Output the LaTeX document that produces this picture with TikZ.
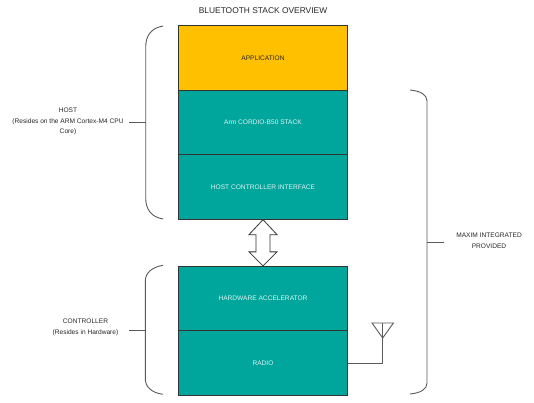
\documentclass[tikz,border=0pt]{standalone}
\usepackage{fontspec}
\setmainfont{Liberation Sans}
\usepackage{tikz}
\usetikzlibrary{positioning, calc}

\definecolor{appyellow}{HTML}{FFC000}
\definecolor{stackteal}{HTML}{00A59C}
\definecolor{bracegray}{HTML}{5A5A5A}

\begin{document}
\begin{tikzpicture}[x=1pt, y=-1pt, node distance=64.5pt, on grid]
        \tikzset{layer/.style={draw=black!80, line width=0.8pt, fill=stackteal, text=white!88!stackteal,
                minimum width=168.6pt, minimum height=64.5pt, font=\fontsize{6.6}{8}\selectfont}}
        \tikzstyle{brace}=[draw=bracegray, line width=0.9pt]
        \tikzstyle{side label}=[align=center, text=black!85, font=\fontsize{6.6}{10.6}\selectfont]

        \useasboundingbox (0,0) rectangle (534,403);

        \node[text=black!85, font=\fontsize{8.4}{10}\selectfont] (title) at (263,11) {BLUETOOTH STACK OVERVIEW};

        % the stack
        \node[layer, fill=appyellow, text=black!85] (app) at (263,58) {APPLICATION};
        \node[layer] (cordio) [below=of app] {Arm CORDIO-B50 STACK};
        \node[layer] (hci) [below=of cordio] {HOST CONTROLLER INTERFACE};
        \node[layer] (hw) [below=111.5pt of hci] {HARDWARE ACCELERATOR};
        \node[layer] (radio) [below=of hw] {RADIO};

        % host <-> controller
        \draw[draw=black!80, line width=0.8pt, fill=white]
        (hci.south) -- ++(14,15) -- ++(-7,0) -- ($(hw.north)+(7,-14)$) -- ++(7,0)
        -- (hw.north) -- ++(-14,-14) -- ++(7,0) -- ($(hci.south)+(-7,15)$) -- ++(-7,0) -- cycle;

        % antenna
        \coordinate (ant) at ($(radio.east)+(35,-40)$);
        \draw[brace] (radio.east) -| (ant);
        \draw[brace] ($(ant)+(-10.7,0)$) -- ($(ant)+(10.7,0)$) -- ($(ant)+(0,15)$) -- cycle;

        % braces
        \draw[brace] (163,26) .. controls (151,28) and (145.7,36) .. (145.7,47) -- (145.7,198)
        .. controls (145.7,209) and (151,217) .. (163,219);
        \coordinate (hosttick) at (129,122.7);
        \draw[brace] (145.7,122.7) -- (hosttick);

        \draw[brace] (163,265.3) .. controls (152,267) and (145.3,273) .. (145.3,281) -- (145.3,379)
        .. controls (145.3,387) and (152,393) .. (163,394.3);
        \coordinate (ctrltick) at (129.3,330.3);
        \draw[brace] (145.3,330.3) -- (ctrltick);

        \draw[brace] (410,90) .. controls (421,91) and (427,95) .. (427,101) -- (427,383)
        .. controls (427,389) and (421,393) .. (410,394);
        \coordinate (maximtick) at (444.3,242.7);
        \draw[brace] (427,242.7) -- (maximtick);

        % labels
        \node[side label] (host) at (68,121.7) {HOST\\(Resides on the ARM Cortex-M4 CPU\\Core)};
        \node[side label] (ctrl) at (85.5,327.3) {CONTROLLER\\(Resides in Hardware)};
        \node[side label] (maxim) at (489,241) {MAXIM INTEGRATED\\PROVIDED};
    \end{tikzpicture}
\end{document}
